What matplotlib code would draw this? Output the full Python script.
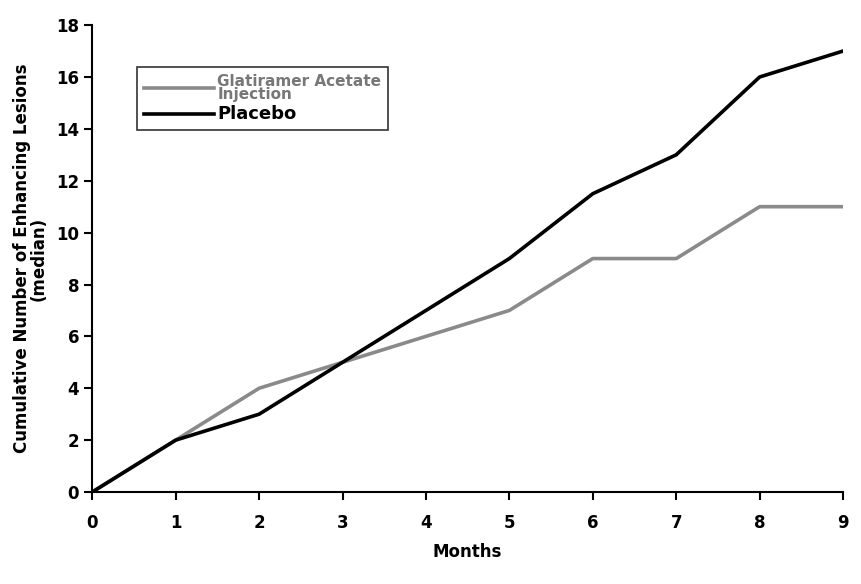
import matplotlib.pyplot as plt
import numpy as np

months = [0, 1, 2, 3, 4, 5, 6, 7, 8, 9]
glatiramer = [0, 2, 4, 5, 6, 7, 9, 9, 11, 11]
placebo = [0, 2, 3, 5, 7, 9, 11.5, 13, 16, 17]

plt.rcParams['font.family'] = ['DejaVu Sans']

fig = plt.figure(figsize=(8.62, 5.84), dpi=100)
ax = fig.add_axes([0.107, 0.1575, 0.871, 0.7995])

ax.plot(months, glatiramer, color='#8a8a8a', linewidth=2.6, label='Glatiramer Acetate\nInjection')
ax.plot(months, placebo, color='black', linewidth=2.6, label='Placebo')

ax.set_xlim(0, 9)
ax.set_ylim(0, 18)
ax.set_xticks(months)
ax.set_yticks(np.arange(0, 19, 2))
ax.spines['top'].set_visible(False)
ax.spines['right'].set_visible(False)
ax.spines['left'].set_linewidth(1.5)
ax.spines['bottom'].set_linewidth(1.5)
ax.tick_params(axis='both', labelsize=12, width=1.5, length=6, direction='out')
for lbl in ax.get_xticklabels() + ax.get_yticklabels():
    lbl.set_fontweight('bold')
ax.tick_params(axis='x', pad=10)

ax.set_xlabel('Months', fontsize=12, fontweight='bold', labelpad=8)
ax.set_ylabel('Cumulative Number of Enhancing Lesions\n(median)', fontsize=12,
              fontweight='bold', linespacing=0.9, labelpad=6)

leg = ax.legend(loc='upper left', bbox_to_anchor=(0.06, 0.91), frameon=True,
                fancybox=False, edgecolor='black', fontsize=11, handlelength=4.6,
                handletextpad=0.2, borderpad=0.45, labelspacing=0.25,
                borderaxespad=0)
leg.get_frame().set_linewidth(1.2)
texts = leg.get_texts()
texts[0].set_color('#777777')
texts[0].set_fontweight('bold')
texts[0].set_linespacing(0.8)
texts[1].set_fontweight('bold')
texts[1].set_fontsize(13)

plt.savefig('out.png', dpi=100)
